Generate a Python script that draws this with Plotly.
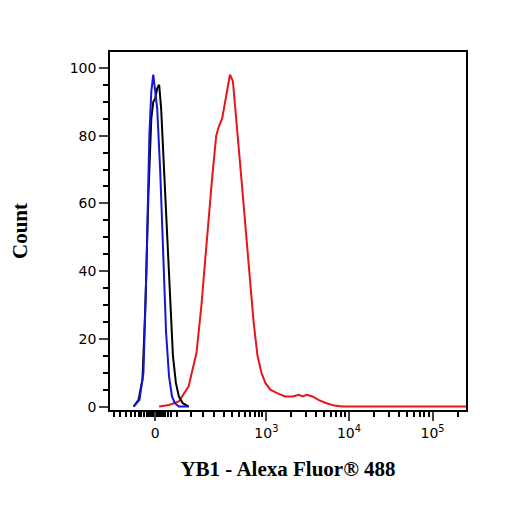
import numpy as np
import plotly.graph_objects as go

# display scale (biexponential channel units); 0 -> 46, 10^3 -> 159, 10^4 -> 243, 10^5 -> 328
tick_pos = [46, 159, 243, 328]
tick_txt = ["0", "10<sup>3</sup>", "10<sup>4</sup>", "10<sup>5</sup>"]

blue_x = [24, 30, 34, 37, 40, 42, 44, 46, 48, 51, 54, 57, 60, 63, 66, 70, 80]
blue_y = [0, 2, 10, 40, 80, 93, 98, 92, 88, 70, 45, 22, 9, 3, 1, 0, 0]

black_x = [24, 29, 33, 36, 39, 42, 44, 46, 48, 50, 52, 55, 58, 61, 64, 67, 70, 74, 80]
black_y = [0, 2, 8, 30, 62, 85, 90, 91, 94, 95, 88, 70, 50, 30, 15, 7, 3, 1, 0]

red_x = [50, 60, 70, 80, 88, 93, 97, 100, 104, 108, 111, 114, 118, 122, 125, 128, 131, 134,
         138, 142, 146, 150, 154, 158, 163, 170, 178, 186, 192, 196, 200, 206, 212, 220, 228, 236, 250, 362]
red_y = [0, 0.5, 1.5, 6, 16, 30, 44, 55, 68, 80, 83, 85, 92, 98, 96, 85, 76, 66, 52, 38, 25, 15,
         10, 7, 5, 4, 3, 3, 3.5, 3, 3.5, 3, 2, 1, 0.3, 0, 0, 0]

minor = []
for d0, d1 in [(159, 243), (243, 328)]:
    minor += [d0 + (d1 - d0) * np.log10(k) for k in range(2, 10)]
minor += [328 + 85 * np.log10(k) for k in range(2, 4)]
minor += [68, 82, 95, 106, 116, 124, 131, 137, 142, 147, 151, 155]
minor += [4, 10, 16, 21, 25, 29, 32, 35, 38, 40, 42, 44, 48, 50, 52, 54, 56, 59, 62]

fig = go.Figure()
fig.add_trace(go.Scatter(x=red_x, y=red_y, mode="lines", line=dict(color="#e8141a", width=2)))
fig.add_trace(go.Scatter(x=black_x, y=black_y, mode="lines", line=dict(color="black", width=2)))
fig.add_trace(go.Scatter(x=blue_x, y=blue_y, mode="lines", line=dict(color="#1515d8", width=2)))

fig.update_layout(
    width=506, height=506, showlegend=False,
    plot_bgcolor="white", paper_bgcolor="white",
    margin=dict(l=102, r=48, t=44, b=104),
    font=dict(family="DejaVu Sans", size=14, color="black"),
)
fig.update_xaxes(
    range=[0, 362], tickvals=tick_pos, ticktext=tick_txt, ticks="outside", ticklen=9,
    tickwidth=2, showgrid=False, zeroline=False, showline=True, linecolor="black",
    linewidth=1.5, mirror=True,
    minor=dict(tickvals=minor, ticks="outside", ticklen=5, tickwidth=1.5, tickcolor="black"),
    title=dict(text="<b>YB1 - Alexa Fluor® 488</b>",
               font=dict(family="Liberation Serif", size=21), standoff=22),
)
fig.update_yaxes(
    range=[-1, 104.7], tickvals=[0, 20, 40, 60, 80, 100], ticks="outside", ticklen=9,
    tickwidth=2, showgrid=False, zeroline=False, showline=True, linecolor="black",
    linewidth=1.5, mirror=True,
    minor=dict(dtick=5, tick0=0, ticks="outside", ticklen=5, tickwidth=1.5, tickcolor="black"),
    title=dict(text="<b>Count</b>", font=dict(family="Liberation Serif", size=21), standoff=36),
)
fig.write_html("out.html")
